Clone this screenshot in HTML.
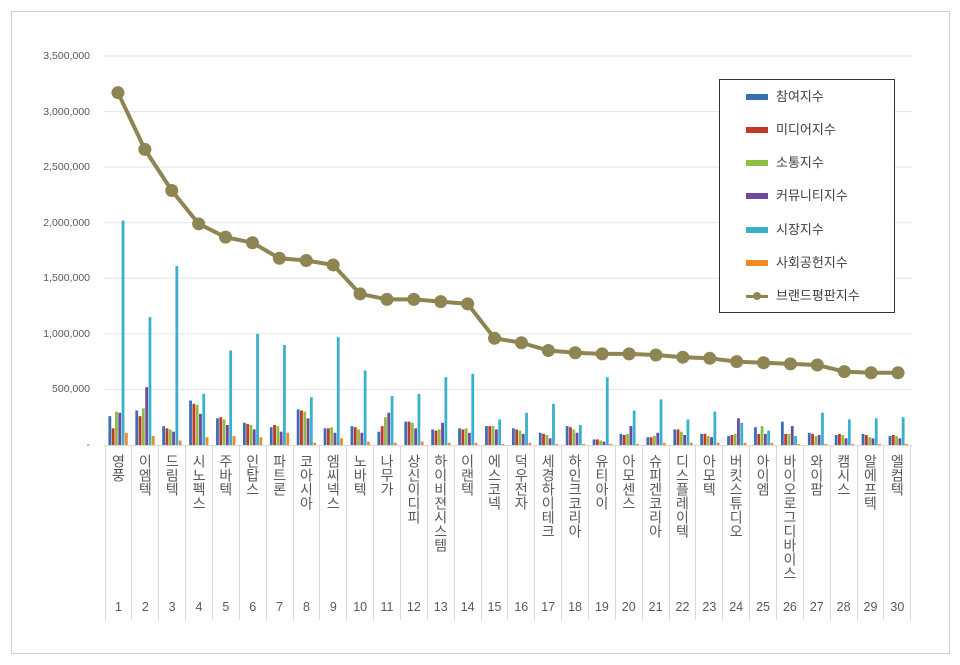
<!DOCTYPE html>
<html><head><meta charset="utf-8"><style>
body{margin:0;background:#fff;width:960px;height:665px;overflow:hidden;font-family:"Liberation Sans","Noto Sans CJK KR",sans-serif;}
#frame{position:absolute;left:11px;top:11px;width:937px;height:641px;border:1px solid #d0d0d0;}
.yl{position:absolute;right:870px;font-size:10.5px;color:#595959;text-align:right;}
#cats{position:absolute;left:104.5px;top:446px;width:807px;height:174px;display:flex;}
#cats div{flex:1;border-left:1px solid #d9d9d9;position:relative;}
#cats div:last-child{border-right:1px solid #d9d9d9;}
.k{position:absolute;top:8px;left:0;right:0;margin:auto;width:18px;writing-mode:vertical-rl;text-orientation:upright;font-size:14px;line-height:18px;color:#595959;letter-spacing:0px;}
.n{position:absolute;top:154px;left:0;right:0;text-align:center;font-size:12.5px;color:#595959;}
#leg{position:absolute;left:719px;top:79px;width:174px;height:232px;border:1px solid #333;background:#fff;}
.li{position:absolute;left:28px;font-size:13px;color:#404040;height:16px;line-height:16px;}
.sw{position:absolute;left:-2px;top:5px;width:22px;height:6px;}
.li span{position:absolute;left:28px;white-space:nowrap;}
</style></head><body>
<div id="frame"></div>
<svg id="s" width="960" height="665" style="position:absolute;left:0;top:0"></svg>
<div class="yl" style="top:50px">3,500,000</div>
<div class="yl" style="top:106px">3,000,000</div>
<div class="yl" style="top:161px">2,500,000</div>
<div class="yl" style="top:217px">2,000,000</div>
<div class="yl" style="top:272px">1,500,000</div>
<div class="yl" style="top:328px">1,000,000</div>
<div class="yl" style="top:383px">500,000</div>
<div class="yl" style="top:439px">-</div>
<div id="cats">
<div><span class="k">영풍</span><span class="n">1</span></div>
<div><span class="k">이엠텍</span><span class="n">2</span></div>
<div><span class="k">드림텍</span><span class="n">3</span></div>
<div><span class="k">시노펙스</span><span class="n">4</span></div>
<div><span class="k">주바텍</span><span class="n">5</span></div>
<div><span class="k">인탑스</span><span class="n">6</span></div>
<div><span class="k">파트론</span><span class="n">7</span></div>
<div><span class="k">코아시아</span><span class="n">8</span></div>
<div><span class="k">엠씨넥스</span><span class="n">9</span></div>
<div><span class="k">노바텍</span><span class="n">10</span></div>
<div><span class="k">나무가</span><span class="n">11</span></div>
<div><span class="k">상신이디피</span><span class="n">12</span></div>
<div><span class="k">하이비젼시스템</span><span class="n">13</span></div>
<div><span class="k">이랜텍</span><span class="n">14</span></div>
<div><span class="k">에스코넥</span><span class="n">15</span></div>
<div><span class="k">덕우전자</span><span class="n">16</span></div>
<div><span class="k">세경하이테크</span><span class="n">17</span></div>
<div><span class="k">하인크코리아</span><span class="n">18</span></div>
<div><span class="k">유티아이</span><span class="n">19</span></div>
<div><span class="k">아모센스</span><span class="n">20</span></div>
<div><span class="k">슈피겐코리아</span><span class="n">21</span></div>
<div><span class="k">디스플레이텍</span><span class="n">22</span></div>
<div><span class="k">아모텍</span><span class="n">23</span></div>
<div><span class="k">버킷스튜디오</span><span class="n">24</span></div>
<div><span class="k">아이엠</span><span class="n">25</span></div>
<div><span class="k">바이오로그디바이스</span><span class="n">26</span></div>
<div><span class="k">와이팜</span><span class="n">27</span></div>
<div><span class="k">캠시스</span><span class="n">28</span></div>
<div><span class="k">알에프텍</span><span class="n">29</span></div>
<div><span class="k">엘컴텍</span><span class="n">30</span></div>
</div>
<div id="leg">
<div class="li" style="top:9px"><div class="sw" style="background:#3a6fb5"></div><span>참여지수</span></div>
<div class="li" style="top:42px"><div class="sw" style="background:#c0392b"></div><span>미디어지수</span></div>
<div class="li" style="top:75px"><div class="sw" style="background:#8fbc45"></div><span>소통지수</span></div>
<div class="li" style="top:108px"><div class="sw" style="background:#6f4a9e"></div><span>커뮤니티지수</span></div>
<div class="li" style="top:142px"><div class="sw" style="background:#3ab0cf"></div><span>시장지수</span></div>
<div class="li" style="top:175px"><div class="sw" style="background:#f08a24"></div><span>사회공헌지수</span></div>
<div class="li" style="top:208px"><div class="sw" style="background:#8e8552;height:3px;top:7px"></div><div style="position:absolute;left:5px;top:4px;width:8px;height:8px;border-radius:50%;background:#8e8552"></div><span>브랜드평판지수</span></div>
</div>
<script>
var s=document.getElementById('s'),ns='http://www.w3.org/2000/svg';
function el(t,a){var e=document.createElementNS(ns,t);for(var k in a)e.setAttribute(k,a[k]);s.appendChild(e);return e;}
function Y(v){return 445-v*389/3500;}
for(var g=1;g<=7;g++)el('line',{x1:104,x2:912,y1:Y(g*500),y2:Y(g*500),stroke:'#e3e3e3','stroke-width':1});
el('line',{x1:104,x2:912,y1:445.5,y2:445.5,stroke:'#d9d9d9'});
var B=[[260,150,300,290,2020,110],[310,260,330,520,1150,80],[170,150,140,120,1610,40],[400,370,360,280,460,70],[240,250,230,180,850,80],[200,190,180,140,1000,70],[160,180,170,120,900,110],[320,310,300,240,430,20],[150,150,160,110,970,60],[170,160,140,110,670,30],[120,170,250,290,440,20],[210,210,200,150,460,30],[140,130,140,200,610,20],[150,140,150,110,640,20],[170,170,170,140,230,10],[150,140,130,100,290,20],[110,100,90,60,370,10],[170,160,140,110,180,10],[50,50,40,30,610,10],[100,90,100,170,310,10],[70,70,80,110,410,20],[140,140,120,90,230,20],[100,100,80,70,300,20],[80,90,100,240,200,20],[160,100,170,100,130,20],[210,100,100,170,80,10],[110,100,80,90,290,10],[90,100,90,60,230,10],[100,90,70,60,240,10],[80,90,80,60,250,10]];
var C=['#3a6fb5','#c0392b','#8fbc45','#6f4a9e','#3ab0cf','#f08a24'];
var L=[3170,2660,2290,1990,1870,1820,1680,1660,1620,1360,1310,1310,1290,1270,960,920,850,830,820,820,810,790,780,750,740,730,720,660,650,650];
var w=26.9,pts=[];
for(var i=0;i<30;i++){var cx=104.5+w*(i+0.5);
for(var j=0;j<6;j++){var v=B[i][j];el('rect',{x:cx-9.5+j*3.3,y:Y(v),width:2.8,height:445-Y(v),fill:C[j]});}
pts.push(cx+','+Y(L[i]));}
el('polyline',{points:pts.join(' '),fill:'none',stroke:'#8e8552','stroke-width':4,'stroke-linejoin':'round'});
for(var i=0;i<30;i++){var p=pts[i].split(',');el('circle',{cx:p[0],cy:p[1],r:6.5,fill:'#8e8552'});}
</script>
</body></html>
